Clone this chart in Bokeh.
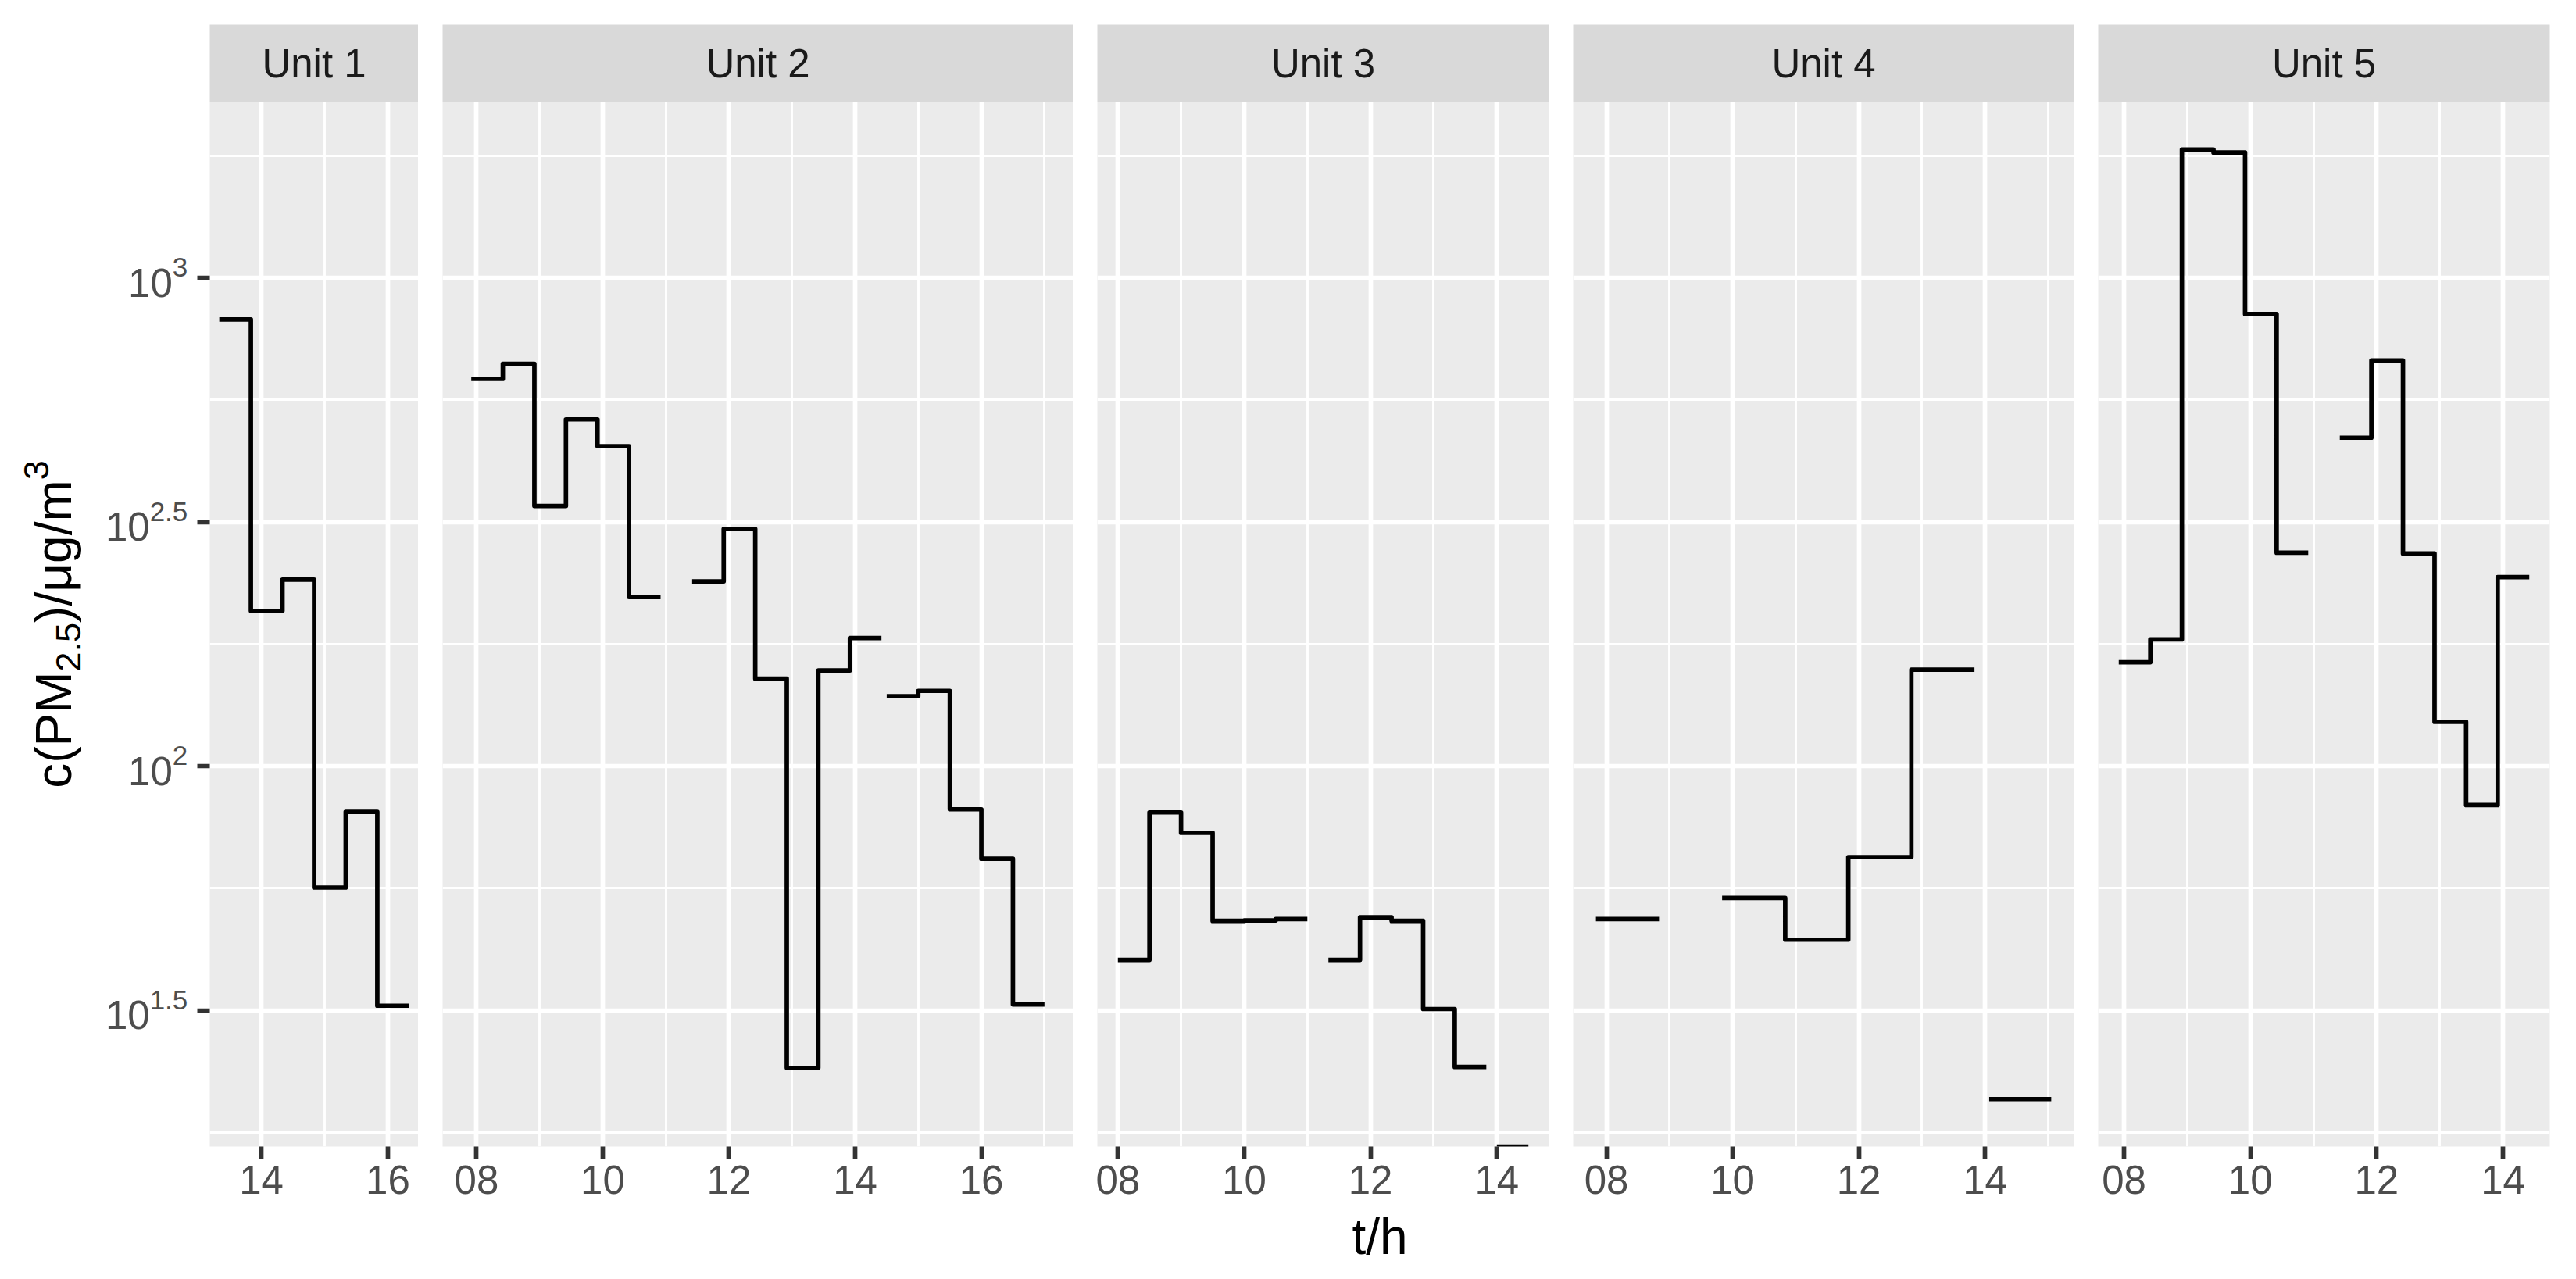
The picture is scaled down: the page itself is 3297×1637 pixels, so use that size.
import math
from bokeh.plotting import figure
from bokeh.layouts import row, column
from bokeh.models import Range1d, FixedTicker, CustomJSTickFormatter, Spacer
from bokeh.core.properties import value
from bokeh.embed import file_html
from bokeh.resources import INLINE

# ---------------- data ----------------
units = ["Unit 1", "Unit 2", "Unit 3", "Unit 4", "Unit 5"]

# sampling times (HH:MM); None separates the pieces of each step line
u1_time = ["13:20", "13:50", "14:20", "14:50", "15:20", "15:50", "16:20"]
u1_conc = [822, 208, 241, 56.4, 80.6, 32.3, 32.3]

u2_time = ["07:55", "08:25", "08:55", "09:25", "09:55", "10:25", "10:55", None,
           "11:25", "11:55", "12:25", "12:55", "13:25", "13:55", "14:25", None,
           "14:30", "15:00", "15:30", "16:00", "16:30", "17:00"]
u2_conc = [621, 667, 341, 513, 452, 222, 222, None,
           239, 306, 151, 24.1, 157, 183, 183, None,
           139, 142.6, 81.6, 64.6, 32.5, 32.5]

u3_time = ["08:00", "08:30", "09:00", "09:30", "10:00", "10:30", "11:00", None,
           "11:20", "11:50", "12:20", "12:50", "13:20", "13:50", None,
           "14:00", "14:30"]
u3_conc = [40.1, 80.4, 73.0, 48.2, 48.3, 48.6, 48.6, None,
           40.1, 49.0, 48.2, 31.8, 24.2, 24.2, None,
           0, 0]

u4_time = ["07:50", "08:50", None,
           "09:50", "10:50", "11:50", "12:50", "13:50", None,
           "14:04", "15:03"]
u4_conc = [48.6, 48.6, None,
           53.7, 44.1, 65.1, 157.6, 157.6, None,
           20.8, 20.8]

u5_time = ["07:55", "08:25", "08:55", "09:25", "09:55", "10:25", "10:55", None,
           "11:25", "11:55", "12:25", "12:55", "13:25", "13:55", "14:25"]
u5_conc = [163.2, 181.7, 1832, 1806, 843, 273.5, 273.5, None,
           470.5, 677, 272.5, 123.2, 83.2, 243.8, 243.8]

unit_times = [u1_time, u2_time, u3_time, u4_time, u5_time]
unit_concs = [u1_conc, u2_conc, u3_conc, u4_conc, u5_conc]

x_major_ticks = [8, 10, 12, 14, 16]
x_minor_ticks = [7, 9, 11, 13, 15, 17]
y_major_exponents = ["1.5", "2", "2.5", "3"]
y_minor_exponents = [1.25, 1.75, 2.25, 2.75, 3.25]

x_title = "t/h"
# y title pieces: (text, role)
y_title_parts = [("c(PM", "base"), ("2.5", "sub"), (")/\u03bcg/m", "base"), ("3", "sup")]

# ---------------- style / layout ----------------
FONT = "Liberation Sans"
TICK_FS = 51
TICK_SUP_FS = 35
TITLE_FS = 64
TITLE_SCRIPT_FS = 45
PX_PER_H = 80.8
GAP = 31
YLAB_W = 252
TICK_LEN = 16
RIGHT = 33
TOP = 31
STRIP_H = 99
PANEL_H = 1337
BOTTOM = 80
XT_H = 89
LW = 5.7

# Arial / Liberation Sans advance widths (em)
ADV = {"0": .556, "1": .556, "2": .556, "3": .556, "5": .556, ".": .278,
       "c": .5, "(": .333, ")": .333, "P": .667, "M": .833, "/": .278,
       "\u03bc": .576, "g": .556, "m": .833}


def text_w(s, fs):
    return sum(ADV.get(ch, 0.556) for ch in s) * fs


def hours(s):
    h, m = s.split(":")
    return int(h) + int(m) / 60.0


# y range (log, 5 % expansion like ggplot)
pos = [c for cs in unit_concs for c in cs if c is not None and c > 0]
ylo_l, yhi_l = math.log10(min(pos)), math.log10(max(pos))
pad = 0.05 * (yhi_l - ylo_l)
ylo_l, yhi_l = ylo_l - pad, yhi_l + pad
Y_LO, Y_HI = 10 ** ylo_l, 10 ** yhi_l
K = (yhi_l - ylo_l) / PANEL_H   # log10 units per screen pixel


def step_path(times, concs):
    xs, ys = [], []
    piece = []
    nan = float("nan")

    def flush():
        for i, (t, c) in enumerate(piece):
            if i > 0:
                xs.append(t)
                ys.append(piece[i - 1][1])
            xs.append(t)
            ys.append(c)
        xs.append(nan)
        ys.append(nan)

    for t, c in zip(times, concs):
        if t is None or c is None:
            if piece:
                flush()
            piece = []
            continue
        # non-positive values sit at -Inf on the log scale: panel bottom edge
        piece.append((hours(t), c if c > 0 else Y_LO))
    if piece:
        flush()
    return xs, ys


def base_fig(**kw):
    return figure(toolbar_location=None, output_backend="svg",
                  border_fill_color="white", outline_line_color=None, **kw)


x_fmt = CustomJSTickFormatter(code="const s = tick.toFixed(0); return s.length < 2 ? '0' + s : s;")

# ---------- y tick labels and y title (left column) ----------
ylab = base_fig(frame_width=YLAB_W, frame_height=PANEL_H, x_range=Range1d(0, YLAB_W),
                y_range=Range1d(Y_LO, Y_HI), y_axis_type="log",
                x_axis_location=None, y_axis_location=None,
                min_border_left=0, min_border_right=0, min_border_top=0,
                min_border_bottom=0, background_fill_color="white")
ylab.grid.visible = False

LBL_RIGHT = 239.8
sup_x = [LBL_RIGHT for e in y_major_exponents]
sup_y = [10 ** (float(e) + 13.5 * K) for e in y_major_exponents]
base_x = [LBL_RIGHT - text_w(e, TICK_SUP_FS) for e in y_major_exponents]
base_y = [10 ** (float(e) - 6.0 * K) for e in y_major_exponents]
ylab.text(x=base_x, y=base_y, text=["10"] * len(y_major_exponents),
          text_align="right", text_baseline="middle", text_font=value(FONT),
          text_font_size=value(f"{TICK_FS}px"), text_color="#4D4D4D")
ylab.text(x=sup_x, y=sup_y, text=list(y_major_exponents),
          text_align="right", text_baseline="middle", text_font=value(FONT),
          text_font_size=value(f"{TICK_SUP_FS}px"), text_color="#4D4D4D")

sizes = {"base": TITLE_FS, "sub": TITLE_SCRIPT_FS, "sup": TITLE_SCRIPT_FS}
mid_x = {"base": 68.5, "sub": 87.0, "sup": 45.6}
total = sum(text_w(t, sizes[r]) for t, r in y_title_parts)
ymid_l = (ylo_l + yhi_l) / 2
cur = -total / 2
for t, r in y_title_parts:
    ylab.text(x=[mid_x[r]], y=[10 ** (ymid_l + cur * K)], text=[t], angle=math.pi / 2,
              text_align="left", text_baseline="middle", text_font=value(FONT),
              text_font_size=value(f"{sizes[r]}px"), text_color="black")
    cur += text_w(t, sizes[r])

ylab_col = column(Spacer(width=YLAB_W, height=TOP + STRIP_H), ylab)

# ---------- panels ----------
strips, panels, widths = [], [], []
n = len(units)
for i, (name, ts, cs) in enumerate(zip(units, unit_times, unit_concs)):
    hs = [hours(t) for t in ts if t is not None]
    x0, x1 = min(hs), max(hs)
    xp = 0.05 * (x1 - x0)
    xlo, xhi = x0 - xp, x1 + xp
    fw = int(round((xhi - xlo) * PX_PER_H))
    widths.append(fw)
    mbl = TICK_LEN if i == 0 else GAP
    mbr = RIGHT if i == n - 1 else 0

    # strip
    s = base_fig(frame_width=fw, frame_height=STRIP_H, x_range=Range1d(0, 1),
                 y_range=Range1d(0, STRIP_H), x_axis_location=None, y_axis_location=None,
                 min_border_left=mbl, min_border_right=mbr, min_border_top=TOP,
                 min_border_bottom=0, background_fill_color="#D9D9D9")
    s.grid.visible = False
    s.text(x=[0.5], y=[STRIP_H / 2], text=[name],
           text_align="center", text_baseline="middle",
           text_font=value(FONT), text_font_size=value(f"{TICK_FS}px"),
           text_color="#1A1A1A")
    strips.append(s)

    # panel
    p = base_fig(frame_width=fw, frame_height=PANEL_H, x_range=Range1d(xlo, xhi),
                 y_range=Range1d(Y_LO, Y_HI), y_axis_type="log",
                 y_axis_location="left" if i == 0 else None, x_axis_location="below",
                 min_border_left=mbl, min_border_right=mbr, min_border_top=0,
                 min_border_bottom=BOTTOM, background_fill_color="#EBEBEB")

    xt = FixedTicker(ticks=x_major_ticks, minor_ticks=x_minor_ticks)
    yt = FixedTicker(ticks=[10 ** float(e) for e in y_major_exponents],
                     minor_ticks=[10 ** e for e in y_minor_exponents])
    p.xgrid.ticker = xt
    p.ygrid.ticker = yt
    for g in (p.xgrid[0], p.ygrid[0]):
        g.grid_line_color = "white"
        g.grid_line_width = LW
        g.minor_grid_line_color = "white"
        g.minor_grid_line_width = LW / 2

    ax = p.xaxis[0]
    ax.ticker = xt
    ax.formatter = x_fmt
    ax.major_label_text_font = FONT
    ax.major_label_text_font_size = f"{TICK_FS}px"
    ax.major_label_text_color = "#4D4D4D"
    ax.major_label_standoff = 8
    ax.major_tick_in = 0
    ax.major_tick_out = TICK_LEN
    ax.major_tick_line_width = LW
    ax.major_tick_line_color = "#333333"
    ax.minor_tick_line_color = None
    ax.axis_line_color = None

    if i == 0:
        ay = p.yaxis[0]
        ay.ticker = yt
        ay.formatter = CustomJSTickFormatter(code="return '';")
        ay.major_label_standoff = 0
        ay.major_tick_in = 0
        ay.major_tick_out = TICK_LEN
        ay.major_tick_line_width = LW
        ay.major_tick_line_color = "#333333"
        ay.minor_tick_line_color = None
        ay.axis_line_color = None

    xs, ys = step_path(ts, cs)
    p.line(xs, ys, line_color="black", line_width=LW, line_join="round")
    panels.append(p)

# ---------- x title ----------
span = sum(widths) + GAP * (n - 1)
bt = base_fig(frame_width=span, frame_height=XT_H, x_range=Range1d(0, 1),
              y_range=Range1d(0, XT_H), x_axis_location=None, y_axis_location=None,
              min_border_left=YLAB_W + TICK_LEN, min_border_right=RIGHT,
              min_border_top=0, min_border_bottom=0, background_fill_color="white")
bt.grid.visible = False
bt.text(x=[0.5], y=[XT_H - 35], text=[x_title], text_align="center",
        text_baseline="middle", text_font=value(FONT),
        text_font_size=value(f"{TITLE_FS}px"), text_color="black")

layout = column(row(ylab_col, *[column(s, p) for s, p in zip(strips, panels)]), bt)
open("out.html", "w").write(file_html(layout, INLINE))
